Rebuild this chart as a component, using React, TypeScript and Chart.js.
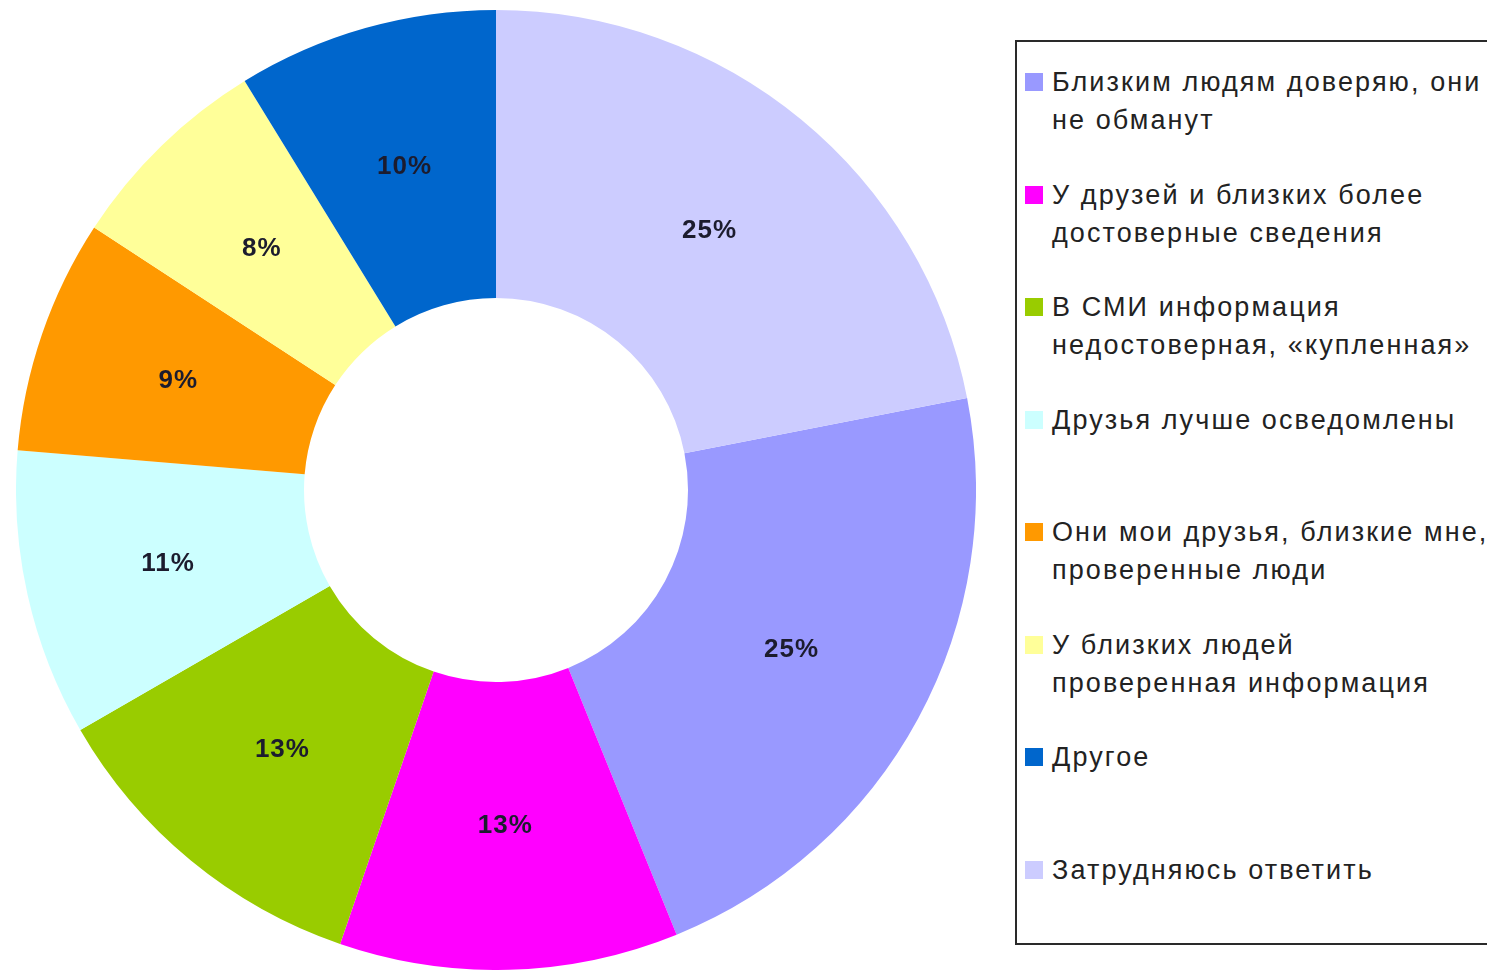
import React, { useEffect, useRef } from "react";
import { Chart, registerables } from "chart.js";

Chart.register(...registerables);

const categories: string[] = [
  "Близким людям доверяю, они\nне обманут",
  "У друзей и близких более\nдостоверные сведения",
  "В СМИ информация\nнедостоверная, «купленная»",
  "Друзья лучше осведомлены",
  "Они мои друзья, близкие мне,\nпроверенные люди",
  "У близких людей\nпроверенная информация",
  "Другое",
  "Затрудняюсь ответить",
];
const values: number[] = [25, 13, 13, 11, 9, 8, 10, 25];
const colors: string[] = [
  "#9999FF",
  "#FF00FF",
  "#99CC00",
  "#CCFFFF",
  "#FF9900",
  "#FFFF99",
  "#0066CC",
  "#CCCCFF",
];
const legendRowCenters: number[] = [82, 195, 307, 420, 532, 645, 757, 870];

const total = values.reduce((a, b) => a + b, 0);
const rotationDeg = (values[values.length - 1] / total) * 360;

const labelPlugin = {
  id: "sliceLabels",
  afterDatasetsDraw(chart: any) {
    const ctx = chart.ctx;
    const meta = chart.getDatasetMeta(0);
    ctx.save();
    ctx.font = "bold 26px 'Liberation Sans', Arial, sans-serif";
    try {
      (ctx as any).letterSpacing = "1px";
    } catch (e) {}
    ctx.textAlign = "center";
    ctx.textBaseline = "middle";
    ctx.fillStyle = "#1c1c2e";
    meta.data.forEach((arc: any, i: number) => {
      const p = arc.getProps(["x", "y", "startAngle", "endAngle", "innerRadius", "outerRadius"], true);
      const mid = (p.startAngle + p.endAngle) / 2;
      const r = (p.innerRadius + p.outerRadius) / 2;
      const x = p.x + Math.cos(mid) * r;
      const y = p.y + Math.sin(mid) * r;
      ctx.fillText(values[i] + "%", x, y);
    });
    ctx.restore();
  },
};

export default function App() {
  const ref = useRef<HTMLCanvasElement>(null);
  useEffect(() => {
    if (!ref.current) return;
    const chart = new Chart(ref.current, {
      type: "doughnut",
      data: {
        labels: categories.map((c) => c.replace("\n", " ")),
        datasets: [
          {
            data: values,
            backgroundColor: colors,
            borderWidth: 0,
          },
        ],
      },
      options: {
        animation: false,
        responsive: false,
        maintainAspectRatio: false,
        rotation: rotationDeg,
        cutout: "40%",
        layout: { padding: 0 },
        plugins: {
          legend: { display: false },
          tooltip: { enabled: false },
        },
      },
      plugins: [labelPlugin],
    });
    return () => chart.destroy();
  }, []);

  return (
    <div
      style={{
        position: "absolute",
        left: 0,
        top: 0,
        width: 1487,
        height: 971,
        overflow: "hidden",
        background: "#ffffff",
        fontFamily: "'Liberation Sans', Arial, sans-serif",
      }}
    >
      <canvas
        ref={ref}
        width={960}
        height={960}
        style={{ position: "absolute", left: 16, top: 10, width: 960, height: 960 }}
      />
      <div
        style={{
          position: "absolute",
          left: 1015,
          top: 40,
          width: 520,
          height: 905,
          border: "2px solid #2a2a2a",
          boxSizing: "border-box",
        }}
      />
      {categories.map((c, i) => (
        <React.Fragment key={i}>
          <div
            style={{
              position: "absolute",
              left: 1025,
              top: legendRowCenters[i] - 9,
              width: 18,
              height: 18,
              background: colors[i],
            }}
          />
          <div
            style={{
              position: "absolute",
              left: 1052,
              top: legendRowCenters[i] - 19,
              fontSize: 27,
              lineHeight: "38px",
              letterSpacing: "2.1px",
              color: "#222222",
              whiteSpace: "pre",
            }}
          >
            {c}
          </div>
        </React.Fragment>
      ))}
    </div>
  );
}
